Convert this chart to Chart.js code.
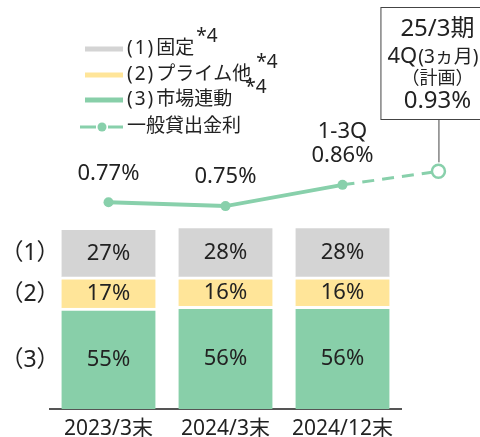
<!DOCTYPE html>
<html>
<head>
<meta charset="utf-8">
<script src="https://cdn.jsdelivr.net/npm/chart.js@4/dist/chart.umd.min.js"></script>
<style>
  html, body { margin: 0; padding: 0; background: #fff; }
  #wrap { width: 480px; height: 437px; }
</style>
</head>
<body>
<div id="wrap"><canvas id="chart" width="480" height="437"></canvas></div>
<script>
const categories = ['2023/3末', '2024/3末', '2024/12末'];
const fixedShare = [27, 28, 28];
const primeShare = [17, 16, 16];
const marketShare = [55, 56, 56];

const seriesNames = ['(1)固定', '(2)プライム他', '(3)市場連動', '一般貸出金利'];
const seriesTags = ['（1）', '（2）', '（3）'];
const seriesNote = '*4';

const rateValues = [0.77, 0.75, 0.86, 0.93];
const ratePeriods = [0, 1, 2, 2.82];
const ratePlanned = [false, false, false, true];
const rateTags = ['', '', '1-3Q', ''];
const planCaption = ['25/3期', '4Q', '(3ヵ月)', '（計画）'];

const GREY = '#d4d4d4';
const YELLOW = '#ffe599';
const GREEN = '#88cfa9';
const LINE_GREEN = '#88d0ab';
const TEXT = '#222';
const FONT = '"Noto Sans", "Noto Sans CJK JP", sans-serif';

Chart.defaults.font.family = FONT;
Chart.defaults.color = TEXT;

function font(size) {
	return size + 'px ' + FONT;
}

// draws "(n)" a little spread out, then the rest of the name
function drawLegendName(ctx, name, x, y) {
	const m = name.match(/^(\(\d\))(.*)$/);
	ctx.font = font(19);
	if (!m) {
		ctx.fillText(name, x, y);
		return x + ctx.measureText(name).width;
	}
	ctx.letterSpacing = '2px';
	ctx.fillText(m[1], x, y);
	const w = ctx.measureText(m[1]).width;
	ctx.letterSpacing = '0px';
	ctx.fillText(m[2], x + w + 1, y);
	return x + w + 1 + ctx.measureText(m[2]).width;
}

const overlay = {
	id: 'overlay',
	afterDatasetsDraw(chart) {
		const ctx = chart.ctx;
		ctx.save();
		ctx.fillStyle = TEXT;
		ctx.textAlign = 'center';
		ctx.textBaseline = 'middle';

		// share labels inside the stacked bars, and row tags beside the first bar
		for (let i = 0; i < 3; i++) {
			const meta = chart.getDatasetMeta(i);
			const values = chart.data.datasets[i].data;
			meta.data.forEach((bar, j) => {
				const { x, y, base } = bar.getProps(['x', 'y', 'base'], true);
				const cy = (y + base) / 2 + 1.5;
				ctx.font = font(22);
				ctx.fillText(values[j] + '%', x, cy);
				if (j === 0) {
					ctx.font = font(23);
					ctx.fillText(chart.data.datasets[i].tag, 30, cy);
				}
			});
		}

		// rate labels above the line points, callout box for the planned one
		const lineMeta = chart.getDatasetMeta(3);
		lineMeta.data.forEach((pt, k) => {
			const { x, y } = pt.getProps(['x', 'y'], true);
			if (ratePlanned[k]) {
				// sits right of the plot area, so the point is drawn here unclipped
				pt.draw(ctx);

				const left = x - 58, top = 7, bottom = 119;
				ctx.strokeStyle = '#444';
				ctx.lineWidth = 1;
				ctx.strokeRect(left + 0.5, top + 0.5, 116, bottom - top);
				ctx.beginPath();
				ctx.moveTo(x + 0.5, bottom);
				ctx.lineTo(x + 0.5, y - 9);
				ctx.stroke();

				const cx = x - 1;
				ctx.fillStyle = TEXT;
				ctx.font = font(24);
				ctx.fillText(planCaption[0], cx, 29);

				ctx.textAlign = 'left';
				ctx.font = font(22);
				const start = x - 51;
				ctx.fillText(planCaption[1], start, 57);
				const w1 = ctx.measureText(planCaption[1]).width;
				ctx.font = font(19);
				ctx.fillText(planCaption[2], start + w1 + 1, 58);
				ctx.textAlign = 'center';

				ctx.font = font(18);
				ctx.fillText(planCaption[3], cx, 79);
				ctx.font = font(24);
				ctx.fillText(rateValues[k].toFixed(2) + '%', cx, 101);
			} else {
				ctx.font = font(22);
				ctx.fillText(rateValues[k].toFixed(2) + '%', x, y - 29);
				if (rateTags[k]) {
					ctx.fillText(rateTags[k], x, y - 53);
				}
			}
		});

		// legend
		const swatches = [GREY, YELLOW, GREEN];
		const rows = [49, 75, 100, 127];
		const noteGap = [2, 5, 13];
		rows.forEach((ry, r) => {
			ctx.textAlign = 'left';
			if (r < 3) {
				ctx.strokeStyle = swatches[r];
				ctx.lineWidth = 5;
				ctx.beginPath();
				ctx.moveTo(85, ry);
				ctx.lineTo(123, ry);
				ctx.stroke();
			} else {
				ctx.strokeStyle = LINE_GREEN;
				ctx.lineWidth = 3;
				ctx.beginPath();
				ctx.moveTo(80, ry);
				ctx.lineTo(96, ry);
				ctx.moveTo(108, ry);
				ctx.lineTo(123, ry);
				ctx.stroke();
				ctx.fillStyle = LINE_GREEN;
				ctx.beginPath();
				ctx.arc(102, ry, 4.5, 0, Math.PI * 2);
				ctx.fill();
			}
			ctx.fillStyle = TEXT;
			const end = drawLegendName(ctx, seriesNames[r], 127, ry);
			if (r < 3) {
				ctx.font = font(19);
				ctx.fillText(seriesNote, end + noteGap[r], ry - 12);
			}
		});
		ctx.restore();
	},
};

const barBorder = { top: 3, right: 0, bottom: 0, left: 0 };

function barSet(name, tag, data, color) {
	return {
		label: name,
		tag,
		data,
		stack: 'share',
		grouped: false,
		backgroundColor: color,
		borderColor: '#fff',
		borderWidth: barBorder,
		borderSkipped: false,
		barThickness: 94,
		order: 2,
	};
}

new Chart(document.getElementById('chart'), {
	type: 'bar',
	data: {
		labels: categories,
		datasets: [
			barSet(seriesNames[2], seriesTags[2], marketShare, GREEN),
			barSet(seriesNames[1], seriesTags[1], primeShare, YELLOW),
			barSet(seriesNames[0], seriesTags[0], fixedShare, GREY),
			{
				type: 'line',
				label: seriesNames[3],
				data: rateValues.map((v, i) => ({ x: ratePeriods[i], y: v })),
				xAxisID: 'x2',
				yAxisID: 'y2',
				borderColor: LINE_GREEN,
				borderWidth: 4,
				pointRadius: ratePlanned.map(p => (p ? 6.5 : 5)),
				pointBorderWidth: ratePlanned.map(p => (p ? 2.5 : 0)),
				pointBackgroundColor: ratePlanned.map(p => (p ? '#fff' : LINE_GREEN)),
				pointBorderColor: LINE_GREEN,
				segment: {
					borderDash: c => (ratePlanned[c.p1DataIndex] ? [12, 8] : undefined),
					borderWidth: c => (ratePlanned[c.p1DataIndex] ? 3 : 4),
				},
				clip: false,
				order: 1,
			},
		],
	},
	options: {
		responsive: false,
		animation: false,
		devicePixelRatio: 1,
		layout: { padding: { left: 50, right: 79, top: 7, bottom: 0 } },
		plugins: { legend: { display: false }, tooltip: { enabled: false } },
		scales: {
			x: {
				stacked: true,
				grid: { display: false, drawTicks: false },
				border: { display: true, color: '#555', width: 2 },
				ticks: { font: { size: 21 }, color: TEXT, padding: 7 },
				afterFit(scale) { scale.height = 28; },
			},
			y: { stacked: true, display: false, min: 0, max: 218 },
			x2: { type: 'linear', display: false, offset: false, min: -0.5, max: 2.5 },
			y2: { display: false, min: -0.3, max: 1.77 },
		},
	},
	plugins: [overlay],
});
</script>
</body>
</html>
